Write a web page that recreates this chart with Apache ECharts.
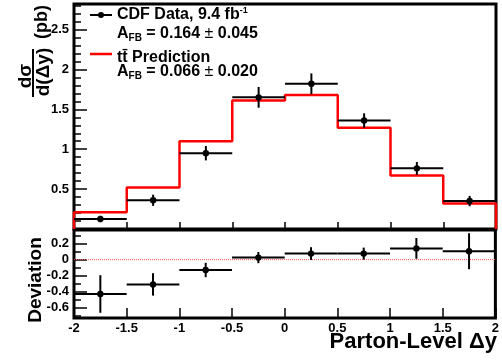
<!DOCTYPE html>
<html>
<head>
<meta charset="utf-8">
<script src="https://cdn.jsdelivr.net/npm/echarts@6/dist/echarts.min.js"></script>
<style>
  html, body { margin: 0; padding: 0; background: #fff; }
  #chart { width: 502px; height: 360px; }
</style>
</head>
<body>
<div id="chart"></div>
<script>
  // bins in parton-level delta y
  const binEdges = [-2, -1.5, -1, -0.5, 0, 0.5, 1, 1.5, 2]
  const binCenters = [-1.75, -1.25, -0.75, -0.25, 0.25, 0.75, 1.25, 1.75]

  // CDF data, d sigma / d(dy) in pb
  const dataVals = [0.125, 0.36, 0.95, 1.65, 1.82, 1.36, 0.76, 0.35]
  const dataErrs = [0.04, 0.07, 0.09, 0.13, 0.13, 0.09, 0.08, 0.065]
  // ttbar prediction
  const predVals = [0.21, 0.52, 1.10, 1.61, 1.68, 1.27, 0.67, 0.32]
  // deviation panel
  const devVals = [-0.43, -0.31, -0.13, 0.025, 0.075, 0.075, 0.14, 0.105]
  const devErrs = [0.235, 0.14, 0.09, 0.07, 0.08, 0.075, 0.13, 0.225]

  // tick labels
  const topMajor = [0.5, 1, 1.5, 2, 2.5]
  const topMinor = [0.1, 0.2, 0.3, 0.4, 0.6, 0.7, 0.8, 0.9, 1.1, 1.2, 1.3, 1.4, 1.6, 1.7, 1.8, 1.9, 2.1, 2.2, 2.3, 2.4, 2.6, 2.7, 2.8]
  const devMajor = [-0.6, -0.4, -0.2, 0, 0.2]
  const devMinor = [-0.7, -0.5, -0.3, -0.1, 0.1, 0.3]

  const FONT = 'Liberation Sans, Arial, sans-serif'
  const chart = echarts.init(document.getElementById('chart'), null, { renderer: 'canvas' })

  const pointRows = (vals, errs) =>
    binCenters.map((c, i) => [c, vals[i], errs[i], binEdges[i], binEdges[i + 1]])

  const predSteps = [[binEdges[0], 0]]
  predVals.forEach((v, i) => predSteps.push([binEdges[i], v]))
  predSteps.push([binEdges[binEdges.length - 1], predVals[predVals.length - 1]])
  predSteps.push([binEdges[binEdges.length - 1], 0])

  const renderErr = (params, api) => {
    const x = api.value(0), y = api.value(1), e = api.value(2)
    const l = api.coord([api.value(3), y])
    const r = api.coord([api.value(4), y])
    const t = api.coord([x, y + e])
    const b = api.coord([x, y - e])
    const c = api.coord([x, y])
    const ls = { stroke: '#000', lineWidth: 2 }
    return {
      type: 'group',
      children: [
        { type: 'line', shape: { x1: l[0], y1: l[1], x2: r[0], y2: r[1] }, style: ls },
        { type: 'line', shape: { x1: t[0], y1: t[1], x2: b[0], y2: b[1] }, style: ls },
        { type: 'circle', shape: { cx: c[0], cy: c[1], r: 3.2 }, style: { fill: '#000' } }
      ]
    }
  }

  const boldLabel = { color: '#000', fontFamily: FONT, fontWeight: 'bold', fontSize: 13 }
  const tickStyle = { color: '#000', width: 1.5 }

  const yAx = (grid, min, max, ticks, len, labels) => ({
    gridIndex: grid, type: 'value', min, max, position: 'left',
    axisLine: { show: false, onZero: false },
    axisTick: { inside: true, length: len, lineStyle: tickStyle, customValues: ticks },
    axisLabel: labels
      ? Object.assign({ margin: 5, customValues: ticks }, boldLabel)
      : { show: false },
    splitLine: { show: false }
  })

  const richStyles = {
    m: { fontFamily: FONT, fontWeight: 'bold', fontSize: 16, color: '#000', lineHeight: 18 },
    pm: { fontFamily: FONT, fontWeight: 'normal', fontSize: 16, color: '#000', lineHeight: 18 },
    s: { fontFamily: FONT, fontWeight: 'bold', fontSize: 10, color: '#000', verticalAlign: 'bottom', lineHeight: 10 },
    p: { fontFamily: FONT, fontWeight: 'bold', fontSize: 9, color: '#000', verticalAlign: 'top', lineHeight: 9 }
  }
  const legText = (x, y, text) => ({
    type: 'text', x, y,
    style: { text, rich: richStyles, verticalAlign: 'top', align: 'left' }
  })

  const option = {
    animation: false,
    backgroundColor: '#fff',
    grid: [
      { left: 74, top: 4, width: 422, height: 225, show: true, borderColor: '#000', borderWidth: 3 },
      { left: 74, top: 230, width: 422, height: 88, show: true, borderColor: '#000', borderWidth: 3 }
    ],
    xAxis: [
      {
        gridIndex: 0, type: 'value', min: -2, max: 2, interval: 0.5, position: 'bottom',
        axisLine: { show: false, onZero: false },
        axisTick: { inside: true, length: 7, lineStyle: tickStyle },
        axisLabel: { show: false },
        splitLine: { show: false }
      },
      {
        gridIndex: 1, type: 'value', min: -2, max: 2, interval: 0.5, position: 'bottom',
        axisLine: { show: false, onZero: false },
        axisTick: { inside: true, length: 10, lineStyle: tickStyle },
        axisLabel: Object.assign({ margin: 4 }, boldLabel),
        splitLine: { show: false }
      }
    ],
    yAxis: [
      yAx(0, 0, 2.82, topMajor, 13, true),
      yAx(0, 0, 2.82, topMinor, 7, false),
      yAx(1, -0.73, 0.37, devMajor, 13, true),
      yAx(1, -0.73, 0.37, devMinor, 7, false)
    ],
    series: [
      {
        name: 'tt Prediction', type: 'line', step: 'end', xAxisIndex: 0, yAxisIndex: 0,
        data: predSteps, symbol: 'none',
        lineStyle: { color: '#ff0000', width: 2.5 }
      },
      {
        name: 'CDF Data', type: 'custom', xAxisIndex: 0, yAxisIndex: 0,
        data: pointRows(dataVals, dataErrs), renderItem: renderErr, z: 5
      },
      {
        name: 'zero', type: 'line', xAxisIndex: 1, yAxisIndex: 2,
        data: [[-2, 0], [2, 0]], symbol: 'none',
        lineStyle: { color: '#ff5050', width: 1, type: 'dotted' }
      },
      {
        name: 'Deviation', type: 'custom', xAxisIndex: 1, yAxisIndex: 2,
        data: pointRows(devVals, devErrs), renderItem: renderErr, z: 5
      }
    ],
    graphic: [
      // y axis title of the top panel
      { type: 'text', x: 26, y: 76, rotation: Math.PI / 2,
        style: { text: 'dσ', font: 'bold 19px ' + FONT, fill: '#000', align: 'center', verticalAlign: 'middle' } },
      { type: 'line', shape: { x1: 33, y1: 49, x2: 33, y2: 97 }, style: { stroke: '#000', lineWidth: 2 } },
      { type: 'text', x: 44, y: 72, rotation: Math.PI / 2,
        style: { text: 'd(Δy)', font: 'bold 19px ' + FONT, fill: '#000', align: 'center', verticalAlign: 'middle' } },
      { type: 'text', x: 42, y: 22, rotation: Math.PI / 2,
        style: { text: '(pb)', font: 'bold 18px ' + FONT, fill: '#000', align: 'center', verticalAlign: 'middle' } },
      // y axis title of the bottom panel
      { type: 'text', x: 36, y: 280, rotation: Math.PI / 2,
        style: { text: 'Deviation', font: 'bold 19px ' + FONT, fill: '#000', align: 'center', verticalAlign: 'middle' } },
      // x axis title
      { type: 'text', x: 497, y: 342,
        style: { text: 'Parton-Level Δy', font: 'bold 22px ' + FONT, fill: '#000', align: 'right', verticalAlign: 'middle' } },
      // legend
      { type: 'line', shape: { x1: 90, y1: 15, x2: 112, y2: 15 }, style: { stroke: '#000', lineWidth: 2 } },
      { type: 'circle', shape: { cx: 101, cy: 15, r: 3 }, style: { fill: '#000' } },
      legText(117, 6, '{m|CDF Data, 9.4 fb}{p|-1}'),
      legText(117, 25, '{m|A}{s|FB}{m| = 0.164 }{pm|±}{m| 0.045}'),
      { type: 'line', shape: { x1: 90, y1: 54, x2: 112, y2: 54 }, style: { stroke: '#ff0000', lineWidth: 2.5 } },
      legText(117, 49, '{m|tt\u0304 Prediction}'),
      legText(117, 63, '{m|A}{s|FB}{m| = 0.066 }{pm|±}{m| 0.020}')
    ]
  }

  chart.setOption(option)
  window.addEventListener('resize', () => chart.resize())
</script>
</body>
</html>
